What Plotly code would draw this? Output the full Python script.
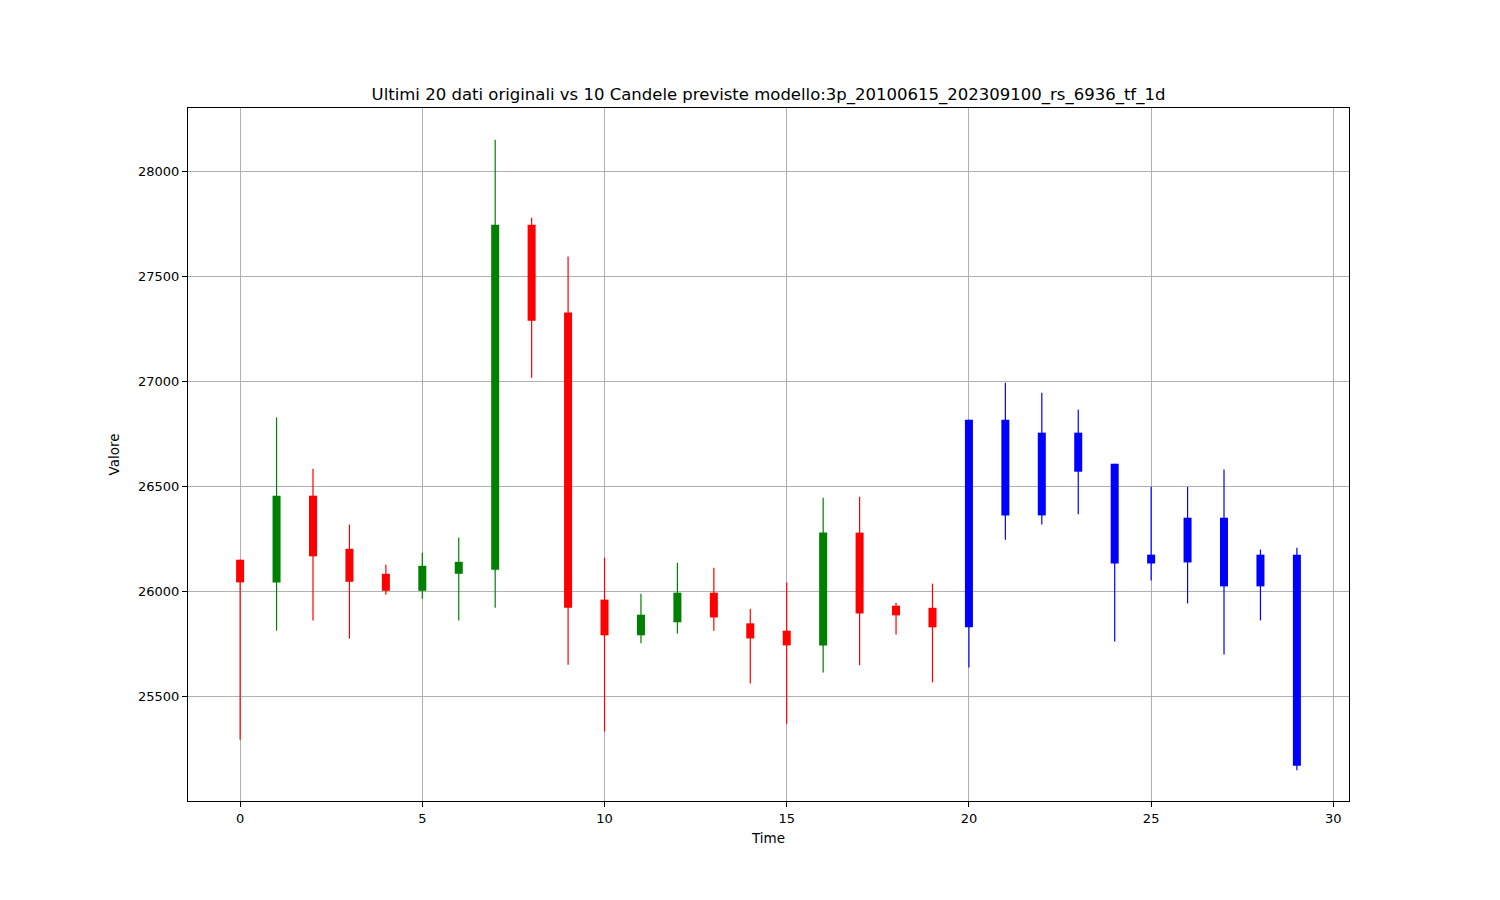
import plotly.graph_objects as go

# Data: 20 original candles + 10 predicted candles
time_idx = list(range(30))
opens = [26149, 26041, 26454, 26201, 26082, 26001, 26082, 26101, 27744, 27326,
         25959, 25789, 25851, 25992, 25846, 25811, 25741, 26278, 25930, 25920,
         25827, 26816, 26360, 26754, 26606, 26131, 26136, 26349, 26022, 26173]
highs = [26149, 26827, 26582, 26316, 26125, 26182, 26255, 28149, 27777, 27593,
         26159, 25987, 26135, 26111, 25916, 26040, 26444, 26449, 25944, 26035,
         26816, 26992, 26944, 26863, 26606, 26496, 26496, 26578, 26197, 26206]
lows = [25292, 25811, 25859, 25773, 25982, 25963, 25859, 25920, 27016, 25649,
        25331, 25751, 25798, 25811, 25559, 25368, 25612, 25646, 25793, 25565,
        25636, 26244, 26317, 26365, 25760, 26050, 25941, 25698, 25860, 25146]
closes = [26041, 26454, 26165, 26044, 26001, 26120, 26139, 27744, 27287, 25920,
          25789, 25887, 25992, 25874, 25774, 25741, 26278, 25893, 25884, 25827,
          26816, 26360, 26754, 26568, 26131, 26173, 26349, 26022, 26173, 25168]
n_original = 20

title_text = "Ultimi 20 dati originali vs 10 Candele previste modello:3p_20100615_202309100_rs_6936_tf_1d"
x_ticks = [0, 5, 10, 15, 20, 25, 30]
y_ticks = [25500, 26000, 26500, 27000, 27500, 28000]

def color_of(i):
    if i >= n_original:
        return "blue"
    return "green" if closes[i] >= opens[i] else "red"

colors = [color_of(i) for i in time_idx]

fig = go.Figure()

# wicks
for c in ["red", "green", "blue"]:
    xs, ys = [], []
    for i in time_idx:
        if colors[i] == c:
            xs += [i, i, None]
            ys += [lows[i], highs[i], None]
    fig.add_trace(go.Scatter(x=xs, y=ys, mode="lines",
                             line=dict(color=c, width=1.2),
                             hoverinfo="skip", showlegend=False))

# bodies
fig.add_trace(go.Bar(
    x=time_idx,
    y=[abs(closes[i] - opens[i]) for i in time_idx],
    base=[min(opens[i], closes[i]) for i in time_idx],
    width=0.22,
    marker=dict(color=colors, line=dict(width=0)),
    showlegend=False,
))

axis_common = dict(
    showline=True, linecolor="black", linewidth=1.2, mirror=True,
    ticks="outside", ticklen=5, tickwidth=1, tickcolor="black",
    showgrid=True, gridcolor="#b0b0b0", gridwidth=1,
    zeroline=False,
    tickfont=dict(family="DejaVu Sans", size=13, color="black"),
)

fig.update_layout(
    width=1500, height=900,
    margin=dict(l=180, r=159, t=100, b=107),
    paper_bgcolor="white", plot_bgcolor="white",
    barmode="overlay",
    font=dict(family="DejaVu Sans", color="black"),
    title=dict(text=title_text, x=0.5, xref="paper", xanchor="center",
               y=1, yref="paper", yanchor="bottom", pad=dict(b=8),
               font=dict(family="DejaVu Sans", size=16.5, color="black")),
    xaxis=dict(range=[-1.43, 30.43], tickvals=x_ticks,
               title=dict(text="Time", font=dict(size=13.5), standoff=8),
               **axis_common),
    yaxis=dict(range=[25000, 28300], tickvals=y_ticks, tickformat="d",
               title=dict(text="Valore", font=dict(size=13.5), standoff=15),
               **axis_common),
)

fig.write_html("out.html")
